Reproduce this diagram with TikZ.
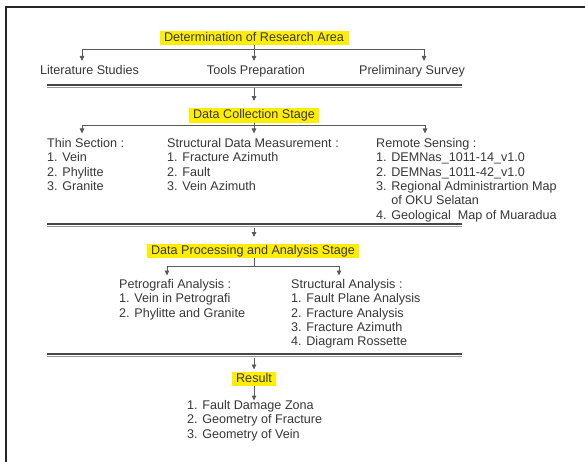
\documentclass[tikz,border=0pt]{standalone}
\usepackage{fontspec}
\setmainfont{Liberation Sans}
\usetikzlibrary{arrows.meta}
\definecolor{txt}{RGB}{55,55,55}
\definecolor{hl}{RGB}{255,238,0}
\definecolor{ln}{RGB}{90,90,90}
\begin{document}
\begin{tikzpicture}[x=1pt,y=-1pt,
  every node/.style={text=txt, font=\fontsize{12.6}{14.3}\selectfont},
  stage/.style={fill=hl, inner xsep=4.5pt, inner ysep=1.3pt, text height=9.2pt, text depth=2.7pt},
  lbl/.style={inner sep=0pt, anchor=north},
  lst/.style={inner sep=0pt, anchor=north west, align=left},
  conn/.style={draw=ln, line width=0.8pt},
  arr/.style={conn, -{Triangle[length=5pt,width=4.5pt]}},
  sepA/.style={draw=black!72, line width=2pt},
  sepB/.style={draw=black!40, line width=1.1pt},
  frame/.style={draw=black!85, line width=2pt}
]
\useasboundingbox (0,0) rectangle (585,462);
% outer frame
\draw[frame] (5.5,480) -- (5.5,7.5) -- (600,7.5);

% ---------- stage 1 ----------
\node[stage] (det) at (254,38) {Determination of Research Area};
\node[lbl] (lit) at (89.5,65.3) {Literature Studies};
\node[lbl] (tools) at (256,65.3) {Tools Preparation};
\node[lbl] (prel) at (412,65.3) {Preliminary Survey};
\coordinate (j1) at (254,49.5);
\coordinate (t1a) at (82,61);
\coordinate (t1b) at (254,61);
\coordinate (t1c) at (424,61);
\draw[conn] (det) -- (j1);
\draw[arr] (j1) -| (t1a);
\draw[arr] (j1) -- (t1b);
\draw[arr] (j1) -| (t1c);

% separator 1
\coordinate (s1l) at (47,85);
\coordinate (s1r) at (462,85);
\coordinate (s1l2) at (47,87.8);
\coordinate (s1r2) at (462,87.8);
\draw[sepA] (s1l) -- (s1r);
\draw[sepB] (s1l2) -- (s1r2);
\coordinate (s1m) at (254,88.5);

% ---------- stage 2 ----------
\node[stage] (dc) at (254,115.5) {Data Collection Stage};
\draw[arr, shorten >=7pt] (s1m) -- (dc);
\coordinate (j2) at (254,125.5);
\coordinate (t2a) at (82,133.5);
\coordinate (t2b) at (254,133.5);
\coordinate (t2c) at (425,133.5);
\draw[conn] (dc) -- (j2);
\draw[arr] (j2) -| (t2a);
\draw[arr] (j2) -- (t2b);
\draw[arr] (j2) -| (t2c);
\node[lst] (thin) at (47,138.3) {Thin Section :\\1. Vein\\2. Phylitte\\3. Granite};
\node[lst] (sdm) at (167,138.3) {Structural Data Measurement :\\1. Fracture Azimuth\\2. Fault\\3. Vein Azimuth};
\node[lst] (rs) at (376,138.3) {Remote Sensing :\\1. DEMNas\_1011-14\_v1.0\\2. DEMNas\_1011-42\_v1.0\\3. Regional Administrartion Map\\\phantom{3. }of OKU Selatan\\4. Geological~ Map of Muaradua};

% separator 2
\coordinate (s2l) at (47,224);
\coordinate (s2r) at (462,224);
\coordinate (s2l2) at (47,226.8);
\coordinate (s2r2) at (462,226.8);
\draw[sepA] (s2l) -- (s2r);
\draw[sepB] (s2l2) -- (s2r2);
\coordinate (s2m) at (254,227.5);

% ---------- stage 3 ----------
\node[stage] (dp) at (253,251) {Data Processing and Analysis Stage};
\draw[arr, shorten >=6.5pt] (s2m) -- (s2m |- dp.north);
\coordinate (j3) at (254,266);
\coordinate (t3a) at (167,275.5);
\coordinate (t3b) at (339,275.5);
\draw[conn] (dp.south -| j3) -- (j3);
\draw[arr] (j3) -| (t3a);
\draw[arr] (j3) -| (t3b);
\node[lst] (petro) at (119,279.3) {Petrografi Analysis :\\1. Vein in Petrografi\\2. Phylitte and Granite};
\node[lst] (sa) at (291,279.3) {Structural Analysis :\\1. Fault Plane Analysis\\2. Fracture Analysis\\3. Fracture Azimuth\\4. Diagram Rossette};

% separator 3
\coordinate (s3l) at (47,354);
\coordinate (s3r) at (462,354);
\coordinate (s3l2) at (47,356.8);
\coordinate (s3r2) at (462,356.8);
\draw[sepA] (s3l) -- (s3r);
\draw[sepB] (s3l2) -- (s3r2);
\coordinate (s3m) at (254,357.5);

% ---------- result ----------
\node[stage] (res) at (254,379) {Result};
\draw[arr, shorten >=2pt] (s3m) -- (res);
\coordinate (t4) at (254,400.5);
\draw[arr] (res) -- (t4);
\node[lst] (rl) at (187,400.3) {1. Fault Damage Zona\\2. Geometry of Fracture\\3. Geometry of Vein};
\end{tikzpicture}
\end{document}
